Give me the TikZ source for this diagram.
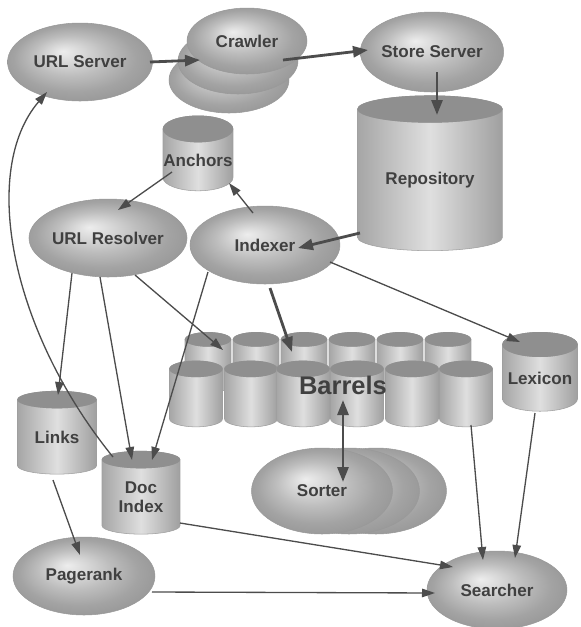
\documentclass[tikz,border=0pt]{standalone}
\usepackage{fontspec}
\setsansfont{Liberation Sans}
\usetikzlibrary{shapes.geometric,arrows.meta,calc}

\pgfdeclareradialshading{egg}{\pgfpoint{-6bp}{7bp}}{color(0bp)=(gray!14); color(5bp)=(gray!28); color(13bp)=(gray!52); color(21bp)=(gray!72); color(30bp)=(gray!85)}

% darker top of a storage cylinder
\newcommand{\lid}[1]{%
  \fill[gray!88] let \p1=(#1.before top), \p2=(#1.after top), \p3=(#1.north) in
    ($(\p1)!.5!(\p2)$) ellipse [x radius={veclen(\x2-\x1,\y2-\y1)/2}, y radius={\y3-(\y1+\y2)/2}];}

\tikzset{
  lbl/.style={font=\sffamily\bfseries\fontsize{9.7}{11}\selectfont, text=black!75, align=center},
  proc/.style={ellipse, lbl, shade, shading=egg, draw=gray!80, line width=0.3pt, minimum width=2.9cm, minimum height=1.56cm, inner sep=0pt},
  store/.style={cylinder, shape border rotate=90, shape aspect=0.38, lbl, left color=gray!70, right color=gray!75, middle color=gray!25, draw=gray!75, line width=0.3pt, inner sep=0pt},
  barrel/.style={store, shape aspect=0.32, text width=1cm, minimum width=1.06cm, minimum height=1.32cm},
  flow/.style={draw=black!70, line width=0.75pt, -{Triangle[length=2.6mm,width=1.7mm]}},
  bigflow/.style={draw=black!70, line width=1.6pt, -{Triangle[length=3mm,width=2.2mm]}}
}

\begin{document}
\begin{tikzpicture}[x=0.02cm,y=-0.02cm]
\useasboundingbox (0,0) rectangle (581,627);

% crawlers, back to front
\node[proc, minimum width=2.4cm, minimum height=1.32cm] (crawlerc) at (229,80) {};
\node[proc, minimum width=2.4cm, minimum height=1.32cm] (crawlerb) at (238,61) {};
\node[proc, minimum width=2.4cm, minimum height=1.32cm] (crawler) at (247,41) {Crawler};

\node[proc] (urlserver) at (80,62) {URL Server};
\node[proc, minimum width=2.8cm, minimum height=1.6cm] (storeserver) at (432,52) {Store Server};
\node[store, shape aspect=0.3, minimum width=2.9cm, minimum height=3.1cm] (repository) at (430,180) {Repository};
\lid{repository}
\node[store, minimum width=1.4cm, minimum height=1.5cm] (anchors) at (198,160) {Anchors};
\lid{anchors}
\node[proc, minimum width=2.8cm] (urlresolver) at (108,238) {URL Resolver};
\node[proc, minimum width=3cm] (indexer) at (265,245) {Indexer};

% barrels
\foreach \x [count=\i] in {208,256,304,352,400,448} {
  \node[barrel, text width=0.88cm, minimum width=0.92cm, minimum height=1.2cm] (bb\i) at (\x,366) {};
  \lid{bb\i}
}
\foreach \x [count=\i] in {196,251,303,357,412,466} {
  \node[barrel] (bf\i) at (\x,398) {};
  \lid{bf\i}
}
\node[lbl, font=\sffamily\bfseries\fontsize{14.5}{16}\selectfont] (barrels) at (343,385) {Barrels};

\node[store, minimum width=1.5cm, minimum height=1.58cm] (lexicon) at (540,378) {Lexicon};
\lid{lexicon}
\node[store, minimum width=1.58cm, minimum height=1.66cm] (links) at (57,437) {Links};
\lid{links}
\node[store, minimum width=1.56cm, minimum height=1.66cm] (docindex) at (141,497) {Doc\\Index};
\lid{docindex}

% sorters, back to front
\node[proc, minimum width=2.82cm, minimum height=1.72cm] (sorterc) at (376,491) {};
\node[proc, minimum width=2.82cm, minimum height=1.72cm] (sorterb) at (349,491) {};
\node[proc, minimum width=2.82cm, minimum height=1.72cm] (sorter) at (322,491) {Sorter};

\node[proc, minimum width=2.84cm] (pagerank) at (84,576) {Pagerank};
\node[proc, minimum width=2.8cm] (searcher) at (497,590) {Searcher};

\draw[bigflow] ([shift={(70,0)}]urlserver.center) -- ([shift={(-47,19)}]crawler.center);
\draw[bigflow] ([shift={(36,19)}]crawler.center) -- ([shift={(-64,-2)}]storeserver.center);
\draw[bigflow] ([shift={(5,20)}]storeserver.center) -- ([shift={(7,-65)}]repository.center);
\draw[bigflow] ([shift={(-70,53)}]repository.center) -- ([shift={(33,3)}]indexer.center);
\draw[flow] ([shift={(-12,-32)}]indexer.center) -- ([shift={(31,23)}]anchors.center);
\draw[flow] ([shift={(-26,12)}]anchors.center) -- ([shift={(10,-28)}]urlresolver.center);
\draw[flow] ([shift={(-36,35)}]urlresolver.center) -- ([shift={(1,-42)}]links.center);
\draw[flow] ([shift={(-8,39)}]urlresolver.center) -- ([shift={(-9,-37)}]docindex.center);
\draw[flow] ([shift={(27,37)}]urlresolver.center) -- ([shift={(15,-16)}]bb1.center);
\draw[flow] ([shift={(-57,27)}]indexer.center) -- ([shift={(11,-37)}]docindex.center);
\draw[bigflow] ([shift={(5,43)}]indexer.center) -- ([shift={(-12,-14)}]bb3.center);
\draw[flow] ([shift={(65,17)}]indexer.center) -- ([shift={(-20,-36)}]lexicon.center);
\draw[flow] ([shift={(-28,-40)}]docindex.center) .. controls (10,330) and (-20,170) .. ([shift={(-33,30)}]urlserver.center);
\draw[flow] ([shift={(-4,43)}]links.center) -- ([shift={(-4,-21)}]pagerank.center);
\draw[flow] ([shift={(39,26)}]docindex.center) -- ([shift={(-44,-23)}]searcher.center);
\draw[flow] ([shift={(68,16)}]pagerank.center) -- ([shift={(-62,3)}]searcher.center);
\draw[flow] ([shift={(5,27)}]bf6.center) -- ([shift={(-14,-30)}]searcher.center);
\draw[flow] ([shift={(-5,35)}]lexicon.center) -- ([shift={(18,-32)}]searcher.center);
\draw[bigflow, {Triangle[length=3mm,width=2.2mm]}-{Triangle[length=3mm,width=2.2mm]}] ([shift={(0,15)}]barrels.center) -- ([shift={(21,-9)}]sorter.center);
\end{tikzpicture}
\end{document}
